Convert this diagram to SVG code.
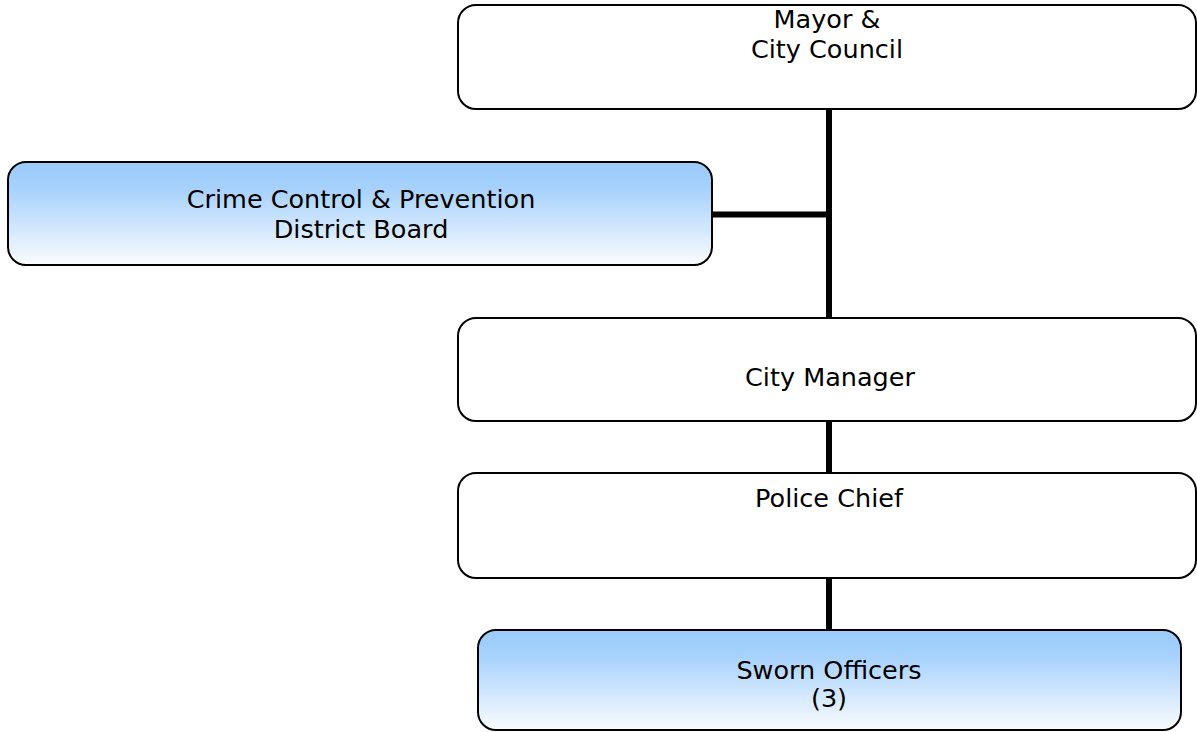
<svg xmlns="http://www.w3.org/2000/svg" width="1197" height="732" viewBox="0 0 1197 732">
  <defs>
    <linearGradient id="blueGrad" x1="0" y1="0" x2="0" y2="1">
      <stop offset="0" stop-color="#99CBFC"/>
      <stop offset="0.25" stop-color="#A6D1FC"/>
      <stop offset="1" stop-color="#FAFCFF"/>
    </linearGradient>
  </defs>
  <style>
    .box { fill: #FFFFFF; stroke: #000000; stroke-width: 2; }
    .blue { fill: url(#blueGrad); stroke: #000000; stroke-width: 2; }
    .lbl { font-family: "DejaVu Sans", "Liberation Sans", sans-serif; font-size: 25.5px; fill: #000000; text-anchor: middle; }
    .conn { stroke: #000000; stroke-width: 6; fill: none; }
  </style>
  <rect x="0" y="0" width="1197" height="732" fill="#FFFFFF"/>
  <g id="connectors">
    <line class="conn" x1="829" y1="109" x2="829" y2="318"/>
    <line class="conn" x1="712" y1="214.5" x2="829" y2="214.5"/>
    <line class="conn" x1="829" y1="421" x2="829" y2="473"/>
    <line class="conn" x1="829" y1="578" x2="829" y2="630"/>
  </g>
  <g id="mayor">
    <rect class="box" x="458" y="5" width="738" height="104" rx="18" ry="18"/>
    <text class="lbl" x="827" y="28">Mayor &amp;</text>
    <text class="lbl" x="827" y="58">City Council</text>
  </g>
  <g id="crime-board">
    <rect class="blue" x="8" y="162" width="704" height="103" rx="18" ry="18"/>
    <text class="lbl" x="361" y="208">Crime Control &amp; Prevention</text>
    <text class="lbl" x="361" y="238">District Board</text>
  </g>
  <g id="city-manager">
    <rect class="box" x="458" y="318" width="738" height="103" rx="18" ry="18"/>
    <text class="lbl" x="830" y="386">City Manager</text>
  </g>
  <g id="police-chief">
    <rect class="box" x="458" y="473" width="738" height="105" rx="18" ry="18"/>
    <text class="lbl" x="829" y="507">Police Chief</text>
  </g>
  <g id="sworn-officers">
    <rect class="blue" x="478" y="630" width="703" height="100" rx="18" ry="18"/>
    <text class="lbl" x="829" y="679">Sworn Officers</text>
    <text class="lbl" x="829" y="707">(3)</text>
  </g>
</svg>
